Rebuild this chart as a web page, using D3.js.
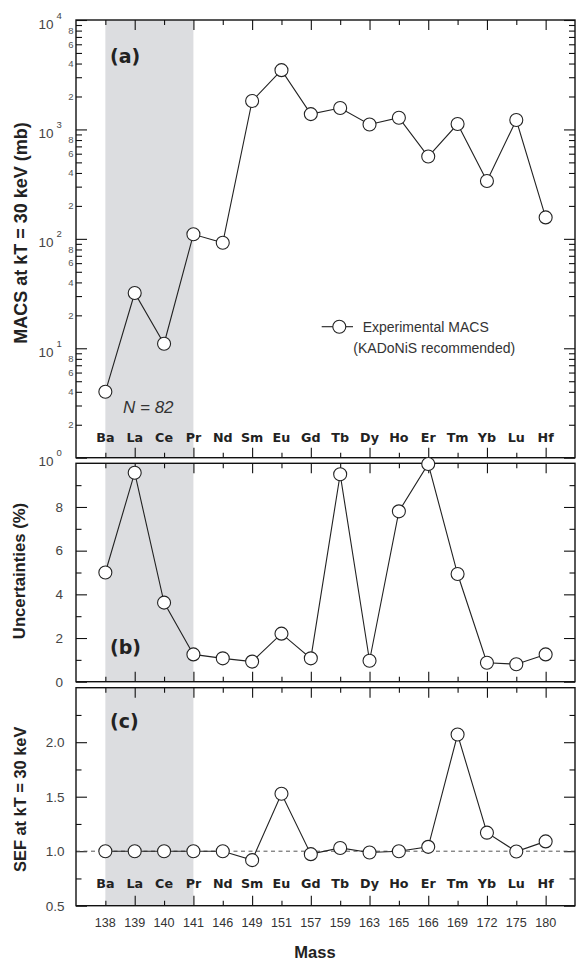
<!DOCTYPE html>
<html>
<head>
<meta charset="utf-8">
<script src="https://cdn.jsdelivr.net/npm/d3@7"></script>
<style>
  html, body { margin: 0; padding: 0; background: #fff; }
  svg { display: block; }
</style>
</head>
<body>
<svg id="chart" width="576" height="962"></svg>
<script>
// ---------- data ----------
const elements = ["Ba","La","Ce","Pr","Nd","Sm","Eu","Gd","Tb","Dy","Ho","Er","Tm","Yb","Lu","Hf"];
const masses = [138,139,140,141,146,149,151,157,159,163,165,166,169,172,175,180];
const macsValues = [4.0, 32, 11, 110, 92, 1820, 3480, 1380, 1570, 1110, 1280, 565, 1120, 338, 1220, 157];
const uncertValues = [5.0, 9.57, 3.62, 1.25, 1.07, 0.92, 2.2, 1.07, 9.5, 0.96, 7.8, 9.97, 4.93, 0.87, 0.8, 1.25];
const sefValues = [1.0, 1.0, 1.0, 1.0, 1.0, 0.918, 1.527, 0.973, 1.03, 0.988, 1.0, 1.04, 2.07, 1.17, 0.997, 1.09];
const shadedRange = [0, 3]; // N = 82 isotopes (Ba..Pr)
const uncertTicks = [0, 2, 4, 6, 8];
const sefTicks = [0.5, 1.0, 1.5, 2.0];

// ---------- layout ----------
const svg = d3.select("#chart");
const L = 76, R = 575;
const idx = d3.range(elements.length);
const x = d3.scalePoint().domain(idx).range([L, R]).padding(1);

const panels = {
  a: { top: 20, bottom: 457.7 },
  b: { top: 463.3, bottom: 681.7 },
  c: { top: 687.7, bottom: 905.7 }
};

const yA = d3.scaleLog().domain([1, 1e4]).range([panels.a.bottom, panels.a.top]);
const yB = d3.scaleLinear().domain([0, 10]).range([panels.b.bottom, panels.b.top]);
const yC = d3.scaleLinear().domain([0.5, 2.5]).range([panels.c.bottom, panels.c.top]);

const labelFont = "'Liberation Sans', Arial, sans-serif";
const heavyFont = "'DejaVu Sans', 'Liberation Sans', sans-serif";

// shaded regions
Object.values(panels).forEach(p => {
  svg.append("rect")
    .attr("x", x(shadedRange[0])).attr("y", p.top)
    .attr("width", x(shadedRange[1]) - x(shadedRange[0]))
    .attr("height", p.bottom - p.top)
    .attr("fill", "#dcdde0");
});

function styleAxis(g) {
  g.selectAll("path.domain").remove();
  g.selectAll("line").attr("stroke", "#111").attr("stroke-width", 1.1);
  g.selectAll("text").attr("font-family", labelFont).attr("fill", "#444");
}

// category ticks on top and bottom of each panel (inward, alternating length)
function categoryTicks(p) {
  const even = idx.filter(i => i % 2 === 0), odd = idx.filter(i => i % 2 === 1);
  [[even, 5], [odd, 10]].forEach(([vals, len]) => {
    svg.append("g").attr("transform", `translate(0,${p.top})`)
      .call(d3.axisTop(x).tickValues(vals).tickSize(-len).tickFormat(""))
      .call(styleAxis);
    svg.append("g").attr("transform", `translate(0,${p.bottom})`)
      .call(d3.axisBottom(x).tickValues(vals).tickSize(-len).tickFormat(""))
      .call(styleAxis);
  });
}
Object.values(panels).forEach(categoryTicks);

// ---------- panel (a) log axis ----------
const decades = [1, 10, 100, 1000, 10000];
const minors = [];
for (let d = 1; d < 10000; d *= 10) for (let m = 2; m <= 9; m++) minors.push(d * m);
[["left", L], ["right", R]].forEach(([side, xp]) => {
  const ax = side === "left" ? d3.axisLeft : d3.axisRight;
  svg.append("g").attr("transform", `translate(${xp},0)`)
    .call(ax(yA).tickValues(decades).tickSize(-11).tickFormat(""))
    .call(styleAxis);
  svg.append("g").attr("transform", `translate(${xp},0)`)
    .call(ax(yA).tickValues(minors).tickSize(-6).tickFormat(""))
    .call(styleAxis);
});
// minor labels 2,4,6,8
const mant = v => Math.round(v / Math.pow(10, Math.floor(Math.log10(v) + 1e-9)));
const minorLabeled = minors.filter(v => [2,4,6,8].includes(mant(v)));
svg.append("g").selectAll("text").data(minorLabeled).join("text")
  .attr("x", 73.5).attr("y", d => yA(d) + 3.3)
  .attr("text-anchor", "end")
  .attr("font-family", labelFont).attr("font-size", 9.5).attr("fill", "#555")
  .text(d => mant(d));
// decade labels with superscripts
svg.append("g").selectAll("text").data(decades).join("text")
  .attr("x", 53.5).attr("y", d => yA(d) + 8.5)
  .attr("text-anchor", "end")
  .attr("font-family", labelFont).attr("font-size", 13.5).attr("fill", "#444")
  .text("10");
svg.append("g").selectAll("text").data(decades).join("text")
  .attr("x", 56.5).attr("y", d => yA(d) - 1.5)
  .attr("font-family", labelFont).attr("font-size", 9.5).attr("fill", "#444")
  .text(d => Math.round(Math.log10(d)));

// ---------- panel (b) linear axis ----------
const bMinor = [1, 3, 5, 7, 9];
[["left", L], ["right", R]].forEach(([side, xp]) => {
  const ax = side === "left" ? d3.axisLeft : d3.axisRight;
  svg.append("g").attr("transform", `translate(${xp},0)`)
    .call(ax(yB).tickValues(uncertTicks).tickSize(-11).tickPadding(13)
      .tickFormat(side === "left" ? d3.format("d") : ""))
    .call(styleAxis)
    .call(g => g.selectAll("text").attr("font-size", 13.5));
  svg.append("g").attr("transform", `translate(${xp},0)`)
    .call(ax(yB).tickValues(bMinor).tickSize(-5.5).tickFormat(""))
    .call(styleAxis);
});

// ---------- panel (c) linear axis ----------
const cMinor = [0.75, 1.25, 1.75, 2.25];
[["left", L], ["right", R]].forEach(([side, xp]) => {
  const ax = side === "left" ? d3.axisLeft : d3.axisRight;
  svg.append("g").attr("transform", `translate(${xp},0)`)
    .call(ax(yC).tickValues(sefTicks).tickSize(-11).tickPadding(11.5)
      .tickFormat(side === "left" ? d3.format(".1f") : ""))
    .call(styleAxis)
    .call(g => g.selectAll("text").attr("font-size", 13.5));
  svg.append("g").attr("transform", `translate(${xp},0)`)
    .call(ax(yC).tickValues(cMinor).tickSize(-5.5).tickFormat(""))
    .call(styleAxis);
});
// dashed reference line at SEF = 1
svg.append("line")
  .attr("x1", L).attr("x2", R).attr("y1", yC(1)).attr("y2", yC(1))
  .attr("stroke", "#555").attr("stroke-width", 1).attr("stroke-dasharray", "4,3.5");

// frames
Object.values(panels).forEach(p => {
  svg.append("rect").attr("x", L).attr("y", p.top)
    .attr("width", R - L).attr("height", p.bottom - p.top)
    .attr("fill", "none").attr("stroke", "#111").attr("stroke-width", 1.4);
});

// ---------- series ----------
function series(vals, y) {
  const line = d3.line().x((d, i) => x(i)).y(d => y(d));
  svg.append("path").datum(vals).attr("d", line)
    .attr("fill", "none").attr("stroke", "#222").attr("stroke-width", 1.1);
  svg.append("g").selectAll("circle").data(vals).join("circle")
    .attr("cx", (d, i) => x(i)).attr("cy", d => y(d)).attr("r", 6.5)
    .attr("fill", "#fff").attr("stroke", "#222").attr("stroke-width", 1.1);
}
series(macsValues, yA);
series(uncertValues, yB);
series(sefValues, yC);

// element labels in (a) and (c)
[441.5, 887.8].forEach(yy => {
  svg.append("g").selectAll("text").data(elements).join("text")
    .attr("x", (d, i) => x(i)).attr("y", yy)
    .attr("text-anchor", "middle")
    .attr("font-family", heavyFont).attr("font-weight", "bold")
    .attr("font-size", 12.7).attr("fill", "#222")
    .text(d => d);
});

// mass labels
svg.append("g").selectAll("text").data(masses).join("text")
  .attr("x", (d, i) => x(i)).attr("y", 926.8)
  .attr("text-anchor", "middle")
  .attr("font-family", labelFont).attr("font-size", 12.6).attr("fill", "#333")
  .text(d => d);

// panel letters
[["(a)", 63], ["(b)", 653.5], ["(c)", 727.5]].forEach(([t, yy]) => {
  svg.append("text").attr("x", 110).attr("y", yy)
    .attr("font-family", heavyFont).attr("font-weight", "bold")
    .attr("font-size", 19).attr("fill", "#222").text(t);
});

// N = 82
svg.append("text").attr("x", 123).attr("y", 412.5)
  .attr("font-family", labelFont).attr("font-style", "italic")
  .attr("font-size", 17).attr("fill", "#333").text("N = 82");

// legend
svg.append("line").attr("x1", 321.7).attr("x2", 353).attr("y1", 326.7).attr("y2", 326.7)
  .attr("stroke", "#222").attr("stroke-width", 1.1);
svg.append("circle").attr("cx", 339.3).attr("cy", 326.7).attr("r", 6.5)
  .attr("fill", "#fff").attr("stroke", "#222").attr("stroke-width", 1.1);
svg.append("text").attr("x", 362.7).attr("y", 331.7)
  .attr("font-family", labelFont).attr("font-size", 14).attr("fill", "#333")
  .text("Experimental MACS");
svg.append("text").attr("x", 353.3).attr("y", 352.8)
  .attr("font-family", labelFont).attr("font-size", 14).attr("fill", "#333")
  .text("(KADoNiS recommended)");

// axis titles
function yTitle(t, cx, cy, size) {
  svg.append("text").attr("transform", `translate(${cx},${cy}) rotate(-90)`)
    .attr("text-anchor", "middle").attr("dominant-baseline", "central")
    .attr("font-family", labelFont).attr("font-weight", "bold")
    .attr("font-size", size).attr("fill", "#222").text(t);
}
yTitle("MACS at kT = 30 keV (mb)", 20.5, 233, 18);
yTitle("Uncertainties (%)", 19.7, 571, 16.7);
yTitle("SEF at kT = 30 keV", 19.5, 799.3, 16.4);

svg.append("text").attr("x", 315).attr("y", 957.5)
  .attr("text-anchor", "middle")
  .attr("font-family", labelFont).attr("font-weight", "bold")
  .attr("font-size", 16.5).attr("fill", "#222").text("Mass");
</script>
</body>
</html>
